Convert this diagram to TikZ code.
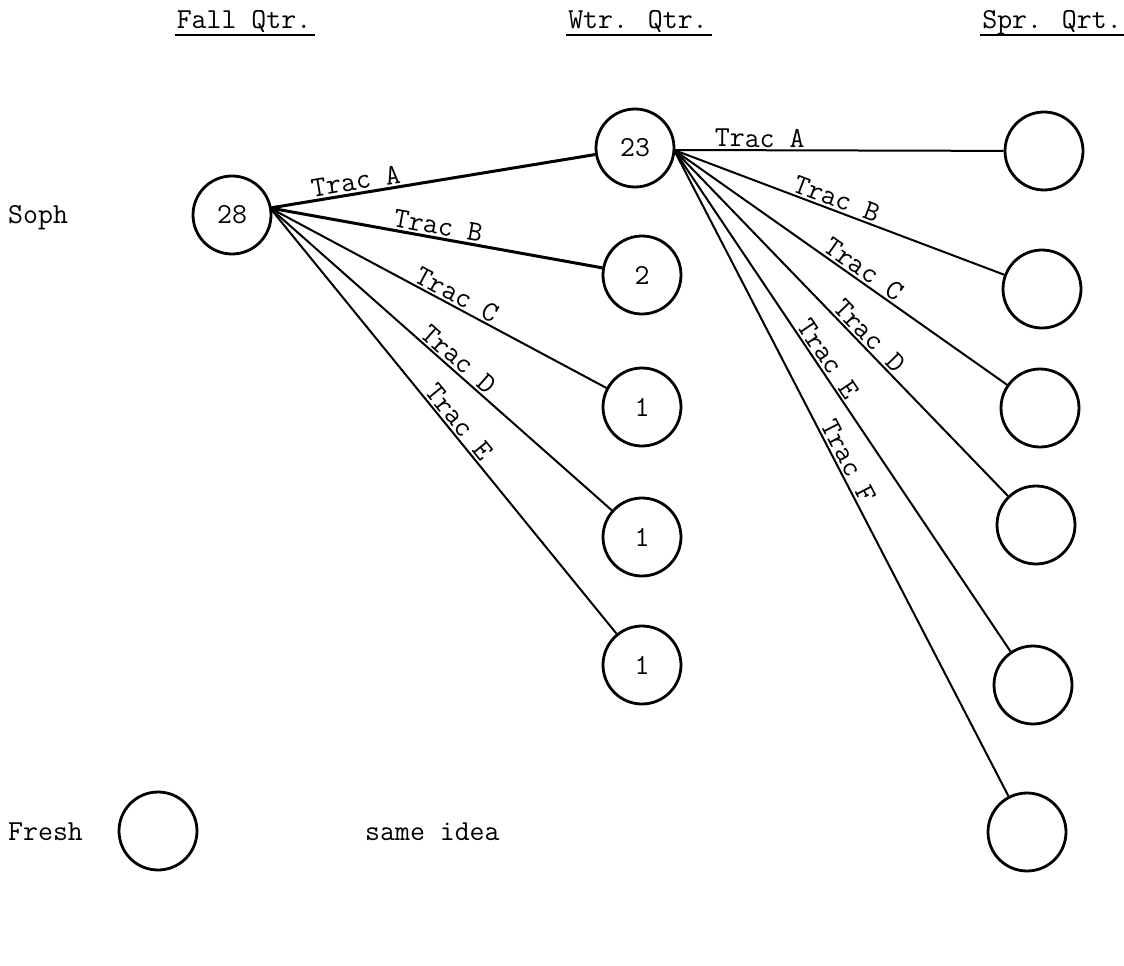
\documentclass[tikz,border=0pt]{standalone}
\usepackage{fontspec}
\begin{document}
\begin{tikzpicture}[x=1pt,y=-1pt,
  every node/.style={font=\ttfamily\fontsize{29}{34}\selectfont},
  state/.style={circle,draw,line width=2.8pt,minimum size=78pt,inner sep=0pt},
  link/.style={line width=2pt},
  heavy/.style={line width=3pt},
  lab/.style={sloped,above,inner sep=2pt},
  head/.style={anchor=base,inner sep=0pt},
  side/.style={anchor=base west,inner sep=0pt},
  rule/.style={line width=2.4pt}]
\useasboundingbox (0,0) rectangle (1124,966);

% column headings
\node[head] (fall) at (244,29) {Fall Qtr.};
\node[head] (wtr)  at (638,29) {Wtr. Qtr.};
\node[head] (spr)  at (1052,29) {Spr. Qrt.};
\foreach \h in {fall,wtr,spr}
  \draw[rule] ([xshift=-2pt,yshift=-6pt]\h.base west) -- ([xshift=4pt,yshift=-6pt]\h.base east);

% row labels
\node[side] (soph)  at (8,223) {Soph};
\node[side] (fresh) at (8,840) {Fresh};
\node[side] (same)  at (365,840) {same idea};

% fall quarter
\node[state] (f28) at (232,215) {28};
\node[state] (fr)  at (158,831) {};

% winter quarter
\node[state] (w23) at (635,148) {23};
\node[state] (w2)  at (642,275) {2};
\node[state] (w1a) at (642,407) {1};
\node[state] (w1b) at (642,537) {1};
\node[state] (w1c) at (642,665) {1};

% spring quarter
\node[state] (s1) at (1044,151) {};
\node[state] (s2) at (1042,289) {};
\node[state] (s3) at (1040,408) {};
\node[state] (s4) at (1036,525) {};
\node[state] (s5) at (1033,685) {};
\node[state] (s6) at (1027,832) {};

% fan-out points
\coordinate (o28) at (270,208);
\coordinate (o23) at (674,150);

\draw[heavy] (o28) -- node[lab,pos=0.27] {Trac A} (w23);
\draw[heavy] (o28) -- node[lab,pos=0.50] {Trac B} (w2);
\draw[link]  (o28) -- node[lab,pos=0.54] {Trac C} (w1a);
\draw[link]  (o28) -- node[lab,pos=0.53] {Trac D} (w1b);
\draw[link]  (o28) -- node[lab,pos=0.52] {Trac E} (w1c);

\draw[link] (o23) -- node[lab,pos=0.26] {Trac A} (s1);
\draw[link] (o23) -- node[lab,pos=0.48] {Trac B} (s2);
\draw[link] (o23) -- node[lab,pos=0.55] {Trac C} (s3);
\draw[link] (o23) -- node[lab,pos=0.56] {Trac D} (s4);
\draw[link] (o23) -- node[lab,pos=0.43] {Trac E} (s5);
\draw[link] (o23) -- node[lab,pos=0.49] {Trac F} (s6);
\end{tikzpicture}
\end{document}
